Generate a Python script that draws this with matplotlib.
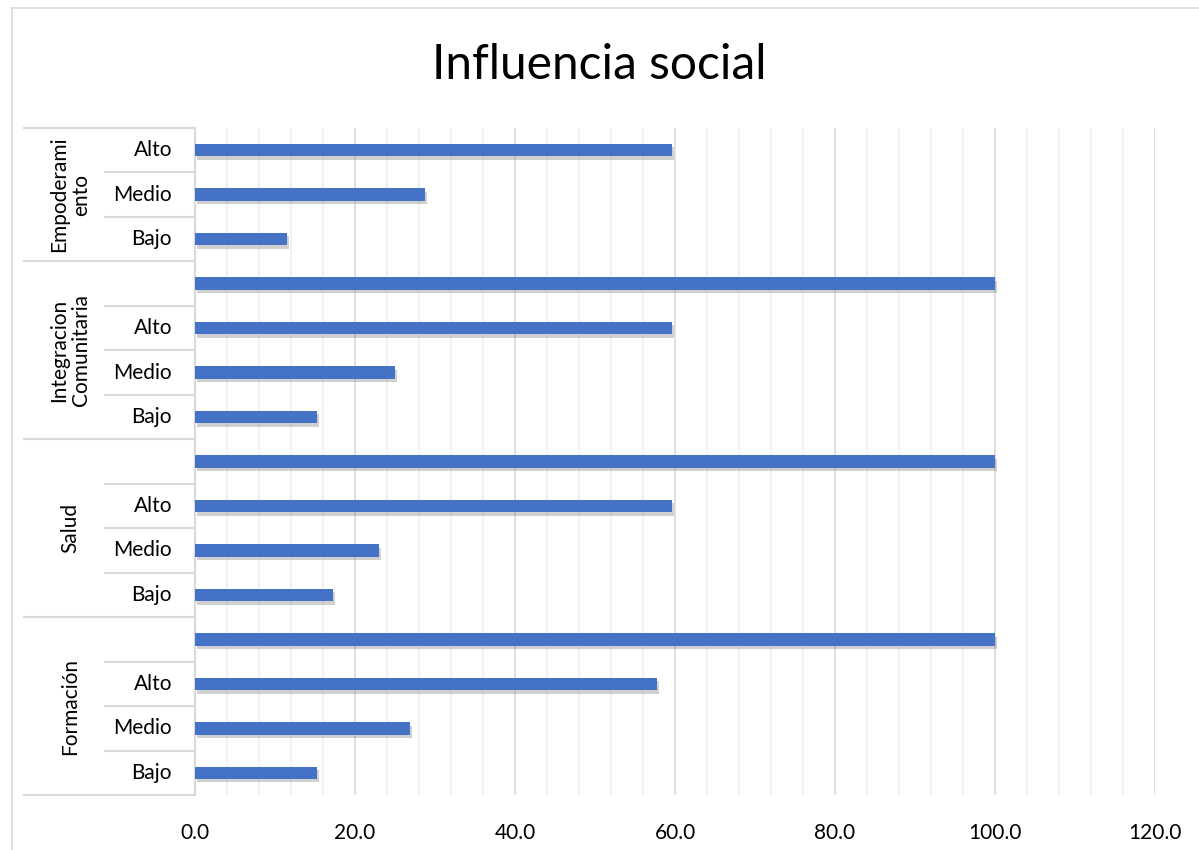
import matplotlib.pyplot as plt
import matplotlib.transforms as mtransforms
import matplotlib.patheffects as pe

plt.rcParams['font.family'] = ['Lato', 'DejaVu Sans']

# hierarchical categories, bottom to top
groups = ["Formación", "Salud", "Integracion\nComunitaria", "Empoderami\nento"]
sub_labels = [
    ["Bajo", "Medio", "Alto", ""],
    ["Bajo", "Medio", "Alto", ""],
    ["Bajo", "Medio", "Alto", ""],
    ["Bajo", "Medio", "Alto"],
]
values = [
    [15.3, 26.9, 57.8, 100.0],
    [17.2, 23.0, 59.6, 100.0],
    [15.3, 25.0, 59.6, 100.0],
    [11.5, 28.8, 59.6],
]
x_ticks = [0, 20, 40, 60, 80, 100, 120]

W, H = 1199, 850
fig = plt.figure(figsize=(W / 100, H / 100), dpi=100)
ax = fig.add_axes([195 / W, 1 - 795 / H, (1155 - 195) / W, (795 - 128) / H])

# flatten
vals, labs, ypos = [], [], []
group_bounds = []
y = 0
for g, subs, vs in zip(groups, sub_labels, values):
    start = y
    for s, v in zip(subs, vs):
        vals.append(v)
        labs.append(s)
        ypos.append(y)
        y += 1
    group_bounds.append((start, y - 1))
n = y

bars = ax.barh(ypos, vals, height=0.28, color="#4472c4", zorder=3)
for b in bars:
    b.set_path_effects([pe.SimplePatchShadow(offset=(1.5, -2.5), shadow_rgbFace="#666666", alpha=0.3), pe.Normal()])

ax.set_xlim(0, 120)
ax.set_ylim(-0.5, n - 0.5)
ax.set_xticks(x_ticks)
ax.set_xticklabels([f"{t:.1f}" for t in x_ticks], fontsize=15)
ax.set_xticks([i for i in range(0, 121, 4) if i % 20], minor=True)
ax.tick_params(axis="x", which="both", length=0, pad=20)
ax.set_yticks([])
ax.grid(axis="x", which="major", color="#d9d9d9", lw=1.2, zorder=0)
ax.grid(axis="x", which="minor", color="#efefef", lw=1.2, zorder=0)
for s in ["top", "right", "bottom"]:
    ax.spines[s].set_visible(False)
ax.spines["left"].set_color("#d9d9d9")
ax.spines["left"].set_linewidth(1.5)

# hierarchical category labels on the left
tr = mtransforms.blended_transform_factory(fig.transFigure, ax.transData)
x_outer, x_inner, x_axis = 24 / W, 105 / W, 193 / W
line_kw = dict(color="#d9d9d9", lw=1.5, transform=tr, clip_on=False)
for (lo, hi), g in zip(group_bounds, groups):
    ax.plot([x_outer, x_axis], [lo - 0.5, lo - 0.5], **line_kw)
    ax.text(70 / W, (lo + hi) / 2, g, rotation=90, ha="center", va="center",
            fontsize=15, transform=tr, linespacing=1.1)
    for k in range(lo + 1, hi + 1):
        ax.plot([x_inner, x_axis], [k - 0.5, k - 0.5], **line_kw)
ax.plot([x_outer, x_axis], [n - 0.5, n - 0.5], **line_kw)
for yy, s in zip(ypos, labs):
    ax.text(172 / W, yy, s, ha="right", va="center", fontsize=15, transform=tr)

fig.suptitle("Influencia social", fontsize=34.5, y=1 - 65 / H, va="center")

# chart area border (left and top)
fig.add_artist(plt.Line2D([12 / W, 12 / W], [0, 1 - 8 / H], color="#d9d9d9", lw=1.2))
fig.add_artist(plt.Line2D([12 / W, 1], [1 - 8 / H, 1 - 8 / H], color="#d9d9d9", lw=1.2))

fig.savefig("out.png", dpi=100)
